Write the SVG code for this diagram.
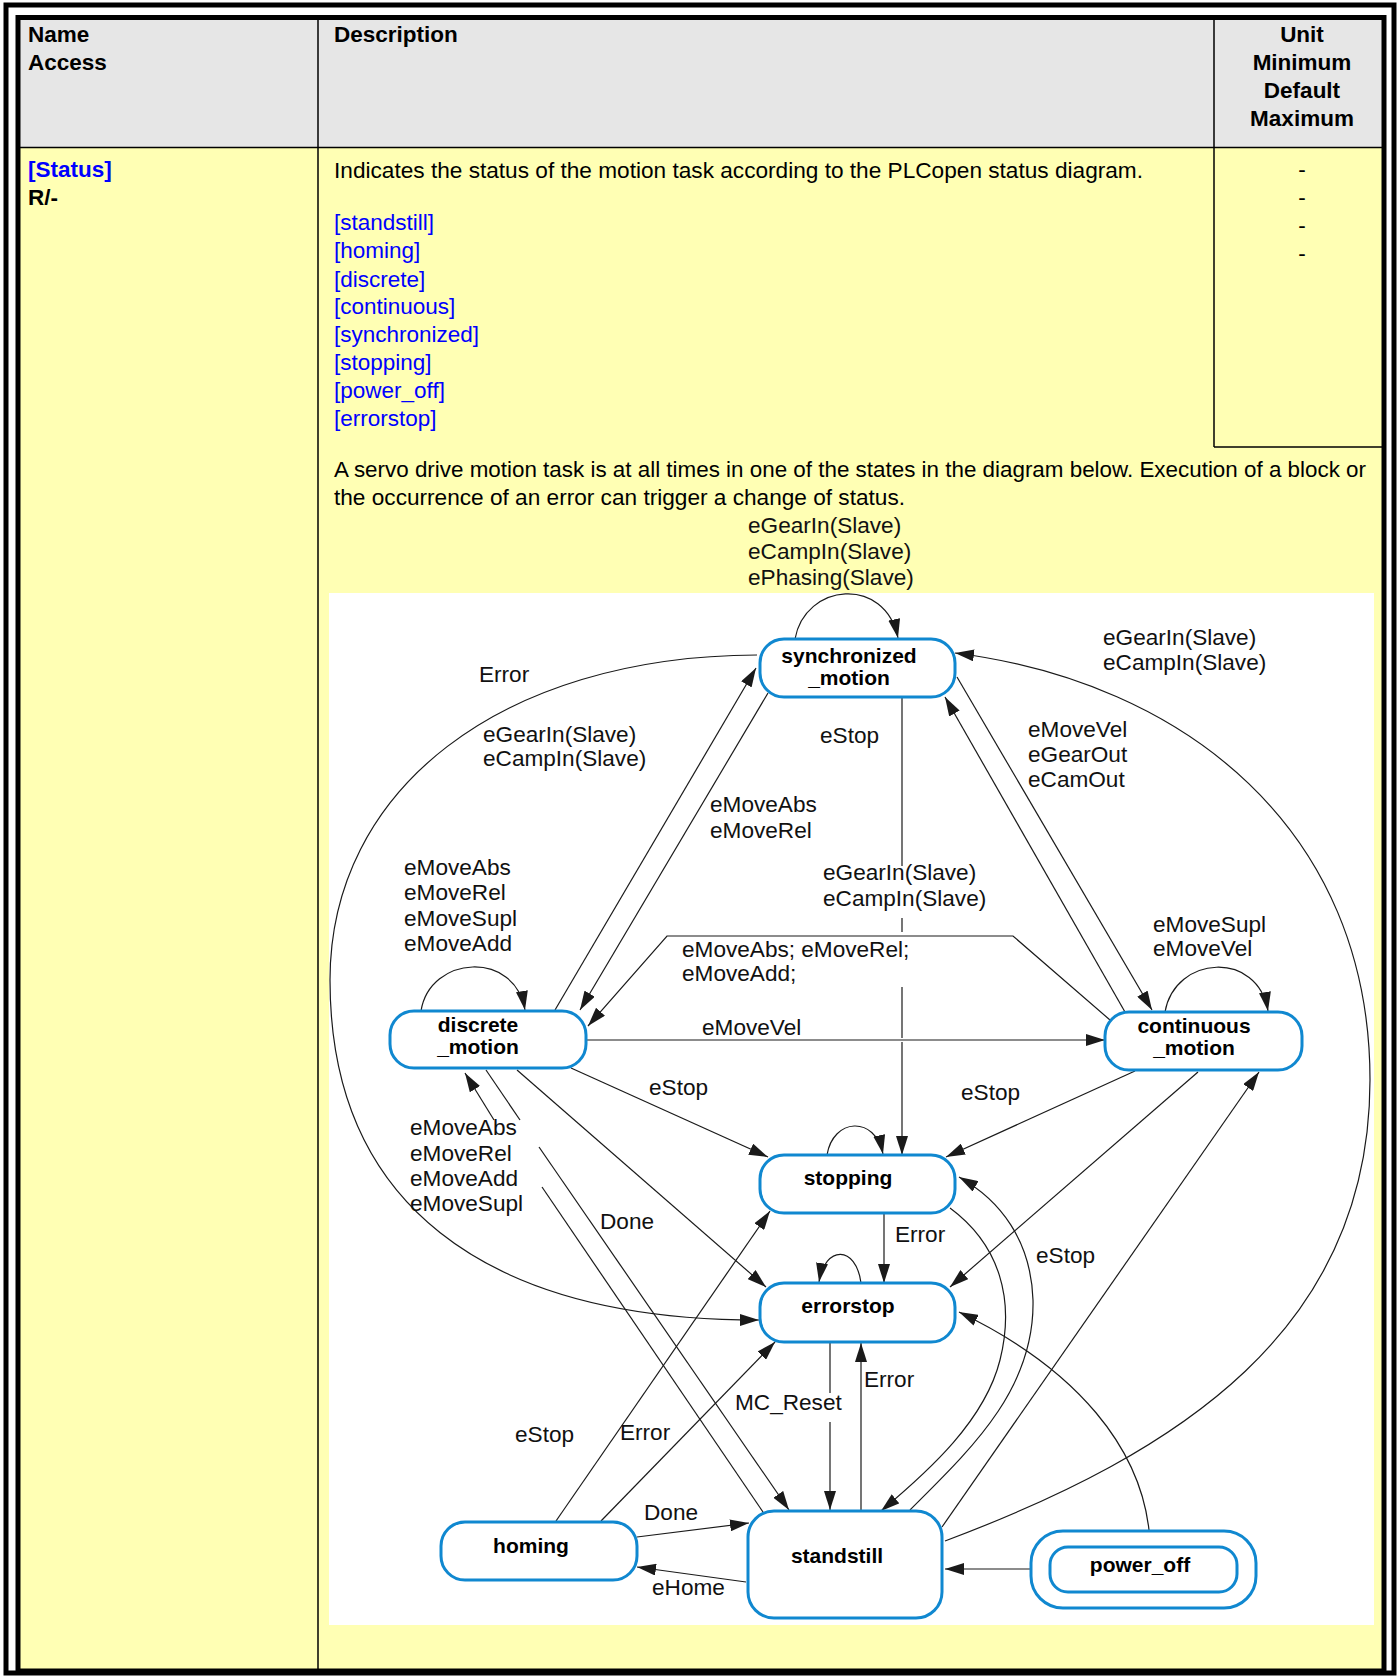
<svg xmlns="http://www.w3.org/2000/svg" width="1398" height="1680" viewBox="0 0 1398 1680">
<defs>
<style>
.t{font-family:"Liberation Sans",Arial,sans-serif;font-size:22.5px;fill:#000}
.b{font-weight:bold}
.lnk{fill:#0000ff}
.nl{font-family:"Liberation Sans",Arial,sans-serif;font-size:21px;font-weight:bold;fill:#000;text-anchor:middle}
.lb{font-family:"Liberation Sans",Arial,sans-serif;font-size:22.6px;fill:#111}
.node rect{fill:#fff;stroke:#1088d0;stroke-width:3}
.c path,.c line,.c polyline{fill:none;stroke:#1a1a1a;stroke-width:1.2}
.a{marker-end:url(#ah)}
</style>
<marker id="ah" markerWidth="19" markerHeight="12" refX="19" refY="6" orient="auto" markerUnits="userSpaceOnUse"><path d="M0,0 L19,6 L0,12 z" fill="#1a1a1a"/></marker>
</defs>
<rect x="0" y="0" width="1398" height="1680" fill="#fff"/>
<rect x="18" y="17.5" width="1366" height="1654" fill="#ffffb4"/>
<rect x="18" y="17.5" width="1366" height="130" fill="#e6e6e6"/>
<rect x="329" y="593" width="1045" height="1032" fill="#fff"/>
<g stroke="#000" fill="none">
<line x1="18" y1="147.5" x2="1384" y2="147.5" stroke-width="1.5"/>
<line x1="318" y1="17.5" x2="318" y2="1671" stroke-width="1.5"/>
<line x1="1214" y1="17.5" x2="1214" y2="447" stroke-width="1.5"/>
<line x1="1214" y1="447" x2="1384" y2="447" stroke-width="1.5"/>
<rect x="6" y="5" width="1388" height="1668" stroke-width="5"/>
<rect x="18" y="17.5" width="1366" height="1653.5" stroke-width="5"/>
</g>
<g id="table-text">
<text class="t b" x="28" y="42">Name</text>
<text class="t b" x="28" y="70">Access</text>
<text class="t b" x="334" y="42">Description</text>
<g class="t b" text-anchor="middle">
<text x="1302" y="42">Unit</text>
<text x="1302" y="70">Minimum</text>
<text x="1302" y="98">Default</text>
<text x="1302" y="126">Maximum</text>
</g>
<text class="t b lnk" x="28" y="177">[Status]</text>
<text class="t b" x="28" y="205">R/-</text>
<text class="t" x="334" y="178" textLength="809" lengthAdjust="spacingAndGlyphs">Indicates the status of the motion task according to the PLCopen status diagram.</text>
<g class="t lnk">
<text x="334" y="230">[standstill]</text>
<text x="334" y="258">[homing]</text>
<text x="334" y="287">[discrete]</text>
<text x="334" y="314">[continuous]</text>
<text x="334" y="342">[synchronized]</text>
<text x="334" y="370">[stopping]</text>
<text x="334" y="398">[power_off]</text>
<text x="334" y="426">[errorstop]</text>
</g>
<g class="t" text-anchor="middle">
<text x="1302" y="177">-</text>
<text x="1302" y="205">-</text>
<text x="1302" y="233">-</text>
<text x="1302" y="261">-</text>
</g>
<text class="t" x="334" y="477" textLength="1032" lengthAdjust="spacingAndGlyphs">A servo drive motion task is at all times in one of the states in the diagram below. Execution of a block or</text>
<text class="t" x="334" y="505" textLength="571" lengthAdjust="spacingAndGlyphs">the occurrence of an error can trigger a change of status.</text>
</g>
<g id="connectors" class="c">
<path class="a" d="M795 639 C805 583 885 575 898 638"/>
<path class="a" d="M757 655 C500 656 330 790 330 980 C330 1200 480 1320 759 1320"/>
<path class="a" d="M945 1541 C1179 1453 1370 1330 1370 1080 C1370 830 1185 682 955 653"/>
<line class="a" x1="768" y1="693" x2="580" y2="1010"/>
<line class="a" x1="555" y1="1010" x2="756" y2="668"/>
<line x1="902" y1="697" x2="902" y2="866"/>
<line x1="902" y1="918" x2="902" y2="932"/>
<line x1="902" y1="987" x2="902" y2="1038"/>
<line class="a" x1="902" y1="1042" x2="902" y2="1155"/>
<line class="a" x1="1125" y1="1012" x2="945" y2="697"/>
<line class="a" x1="957" y1="677" x2="1152" y2="1010"/>
<polyline class="a" points="1110,1020 1013,936 667,936 588,1026"/>
<line class="a" x1="586" y1="1040" x2="1105" y2="1040"/>
<path class="a" d="M421 1011 C430 955 515 950 525 1010"/>
<path class="a" d="M1165 1012 C1175 955 1258 950 1268 1011"/>
<path class="a" d="M827 1155 C833 1118 875 1115 883 1154"/>
<path class="a" d="M861 1283 C856 1245 825 1245 819 1282"/>
<line class="a" x1="571" y1="1068" x2="768" y2="1157"/>
<line class="a" x1="517" y1="1070" x2="766" y2="1287"/>
<line x1="486" y1="1070" x2="520" y2="1120"/>
<line class="a" x1="539" y1="1147" x2="789" y2="1510"/>
<line x1="763" y1="1512" x2="542" y2="1187"/>
<line class="a" x1="494" y1="1120" x2="465" y2="1073"/>
<line class="a" x1="556" y1="1521" x2="770" y2="1211"/>
<line class="a" x1="601" y1="1521" x2="775" y2="1342"/>
<line class="a" x1="637" y1="1537" x2="749" y2="1523"/>
<line class="a" x1="746" y1="1582" x2="637" y2="1567"/>
<line class="a" x1="1031" y1="1569" x2="945" y2="1569"/>
<line class="a" x1="884" y1="1213" x2="884" y2="1283"/>
<line x1="830" y1="1342" x2="830" y2="1393"/>
<line class="a" x1="830" y1="1422" x2="830" y2="1510"/>
<line class="a" x1="861" y1="1510" x2="861" y2="1343"/>
<line class="a" x1="1135" y1="1071" x2="946" y2="1157"/>
<line class="a" x1="1198" y1="1072" x2="950" y2="1287"/>
<line class="a" x1="942" y1="1527" x2="1259" y2="1072"/>
<path class="a" d="M950 1208 C1000 1245 1015 1300 1000 1360 C985 1420 930 1470 881 1511"/>
<path class="a" d="M910 1510 C970 1450 1035 1390 1033 1300 C1031 1240 1000 1200 959 1177"/>
<path class="a" d="M1149 1530 C1140 1450 1080 1370 959 1312"/>
</g>
<g id="labels" class="lb">
<text x="748" y="533">eGearIn(Slave)</text>
<text x="748" y="559">eCampIn(Slave)</text>
<text x="748" y="585">ePhasing(Slave)</text>
<text x="479" y="682">Error</text>
<text x="483" y="742">eGearIn(Slave)</text>
<text x="483" y="766">eCampIn(Slave)</text>
<text x="820" y="743">eStop</text>
<text x="1103" y="645">eGearIn(Slave)</text>
<text x="1103" y="670">eCampIn(Slave)</text>
<text x="1028" y="737">eMoveVel</text>
<text x="1028" y="762">eGearOut</text>
<text x="1028" y="787">eCamOut</text>
<text x="710" y="812">eMoveAbs</text>
<text x="710" y="838">eMoveRel</text>
<text x="404" y="875">eMoveAbs</text>
<text x="404" y="900">eMoveRel</text>
<text x="404" y="926">eMoveSupl</text>
<text x="404" y="951">eMoveAdd</text>
<text x="823" y="880">eGearIn(Slave)</text>
<text x="823" y="906">eCampIn(Slave)</text>
<text x="682" y="957">eMoveAbs; eMoveRel;</text>
<text x="682" y="981">eMoveAdd;</text>
<text x="1153" y="932">eMoveSupl</text>
<text x="1153" y="956">eMoveVel</text>
<text x="702" y="1035">eMoveVel</text>
<text x="649" y="1095">eStop</text>
<text x="961" y="1100">eStop</text>
<text x="410" y="1135">eMoveAbs</text>
<text x="410" y="1161">eMoveRel</text>
<text x="410" y="1186">eMoveAdd</text>
<text x="410" y="1211">eMoveSupl</text>
<text x="600" y="1229">Done</text>
<text x="895" y="1242">Error</text>
<text x="1036" y="1263">eStop</text>
<text x="864" y="1387">Error</text>
<text x="735" y="1410">MC_Reset</text>
<text x="515" y="1442">eStop</text>
<text x="620" y="1440">Error</text>
<text x="644" y="1520">Done</text>
<text x="652" y="1595">eHome</text>
</g>
<g id="node-synchronized_motion" class="node"><rect x="760" y="639" width="195" height="58" rx="24"/><text class="nl" x="849" y="663">synchronized</text><text class="nl" x="849" y="685">_motion</text></g>
<g id="node-discrete_motion" class="node"><rect x="390" y="1011" width="196" height="57" rx="24"/><text class="nl" x="478" y="1032">discrete</text><text class="nl" x="478" y="1054">_motion</text></g>
<g id="node-continuous_motion" class="node"><rect x="1105" y="1012" width="197" height="58" rx="24"/><text class="nl" x="1194" y="1033">continuous</text><text class="nl" x="1194" y="1055">_motion</text></g>
<g id="node-stopping" class="node"><rect x="760" y="1155" width="195" height="58" rx="24"/><text class="nl" x="848" y="1185">stopping</text></g>
<g id="node-errorstop" class="node"><rect x="760" y="1283" width="195" height="59" rx="24"/><text class="nl" x="848" y="1313">errorstop</text></g>
<g id="node-homing" class="node"><rect x="441" y="1522" width="196" height="58" rx="24"/><text class="nl" x="531" y="1553">homing</text></g>
<g id="node-standstill" class="node"><rect x="748" y="1511" width="194" height="107" rx="26"/><text class="nl" x="837" y="1563">standstill</text></g>
<g id="node-power_off" class="node"><rect x="1031" y="1531" width="225" height="77" rx="32"/><rect x="1050" y="1547" width="187" height="45" rx="18"/><text class="nl" x="1140" y="1572">power_off</text></g>
</svg>
